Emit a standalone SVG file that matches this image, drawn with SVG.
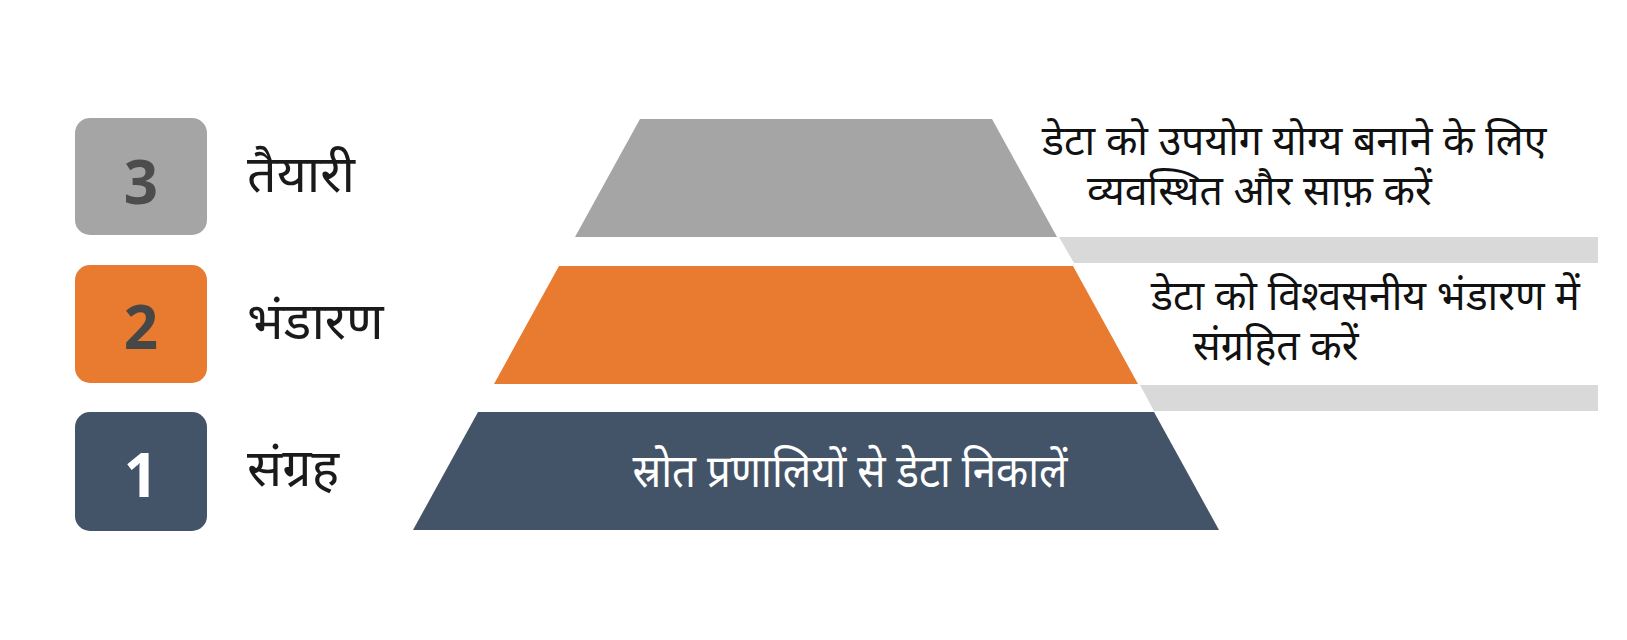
<svg xmlns="http://www.w3.org/2000/svg" width="1627" height="640" viewBox="0 0 1627 640">
<style>
.num{font-family:"Open Sans","Noto Sans",sans-serif;font-weight:700;font-size:60px;text-anchor:middle}
.lbl{font-family:"Noto Sans","Noto Sans Devanagari",sans-serif;font-size:52px;font-weight:400;fill:#1a1a1a}
.desc{font-family:"Noto Sans","Noto Sans Devanagari",sans-serif;font-size:41px;fill:#111}
.bar{fill:#d9d9d9}
</style>
<rect width="1627" height="640" fill="#ffffff"/>
<g id="bars">
<polygon class="bar" points="1059,237 1598,237 1598,263 1074,263"/>
<polygon class="bar" points="1140,385 1598,385 1598,411 1154,411"/>
</g>
<g id="tier3">
<polygon points="640,119 992,119 1057,237 575,237" fill="#a5a5a5"/>
<text class="desc"><tspan x="1042" y="155">डेटा को उपयोग योग्य बनाने के लिए</tspan><tspan x="1087" y="205">व्यवस्थित और साफ़ करें</tspan></text>
</g>
<g id="tier2">
<polygon points="559,266 1073,266 1138,384 494,384" fill="#e87b30"/>
<text class="desc"><tspan x="1151" y="310">डेटा को विश्वसनीय भंडारण में</tspan><tspan x="1193" y="360">संग्रहित करें</tspan></text>
</g>
<g id="tier1">
<polygon points="478,412 1154,412 1219,530 413,530" fill="#435368"/>
<text class="desc" x="850" y="487" style="fill:#ffffff;font-size:46px" text-anchor="middle" textLength="435" lengthAdjust="spacingAndGlyphs">स्रोत प्रणालियों से डेटा निकालें</text>
</g>
<g id="step3">
<rect x="75" y="118" width="132" height="117" rx="15" fill="#a5a5a5"/>
<text class="num" x="141" y="204" fill="#4d4d4d">3</text>
<text class="lbl" x="247" y="192">तैयारी</text>
</g>
<g id="step2">
<rect x="75" y="265" width="132" height="118" rx="15" fill="#e87b30"/>
<text class="num" x="141" y="349" fill="#474747">2</text>
<text class="lbl" x="247" y="339">भंडारण</text>
</g>
<g id="step1">
<rect x="75" y="412" width="132" height="119" rx="15" fill="#435368"/>
<text class="num" x="141" y="497" fill="#ffffff">1</text>
<text class="lbl" x="247" y="486">संग्रह</text>
</g>
</svg>
